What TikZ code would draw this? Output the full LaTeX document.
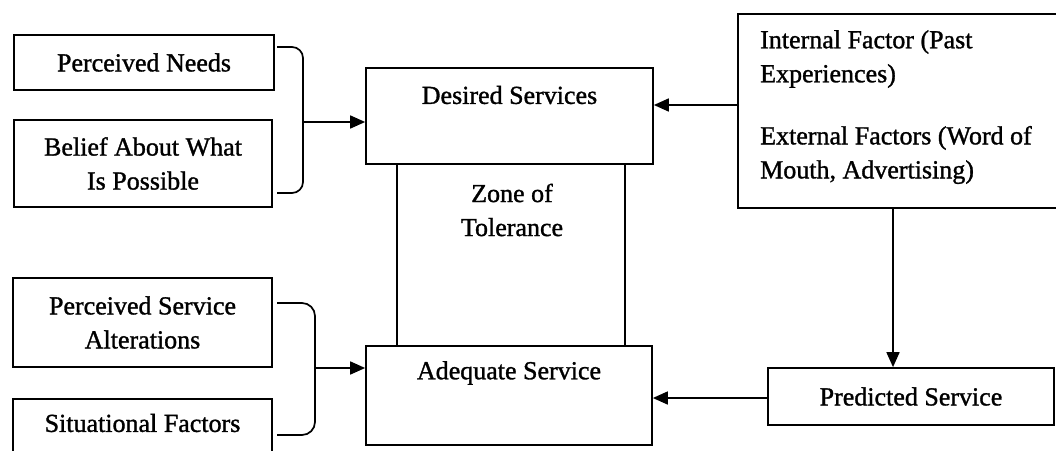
\documentclass[tikz,border=0pt]{standalone}
\usepackage{fontspec}
\setmainfont{Liberation Serif}
\newfontfamily\heavyserif{Liberation Serif}[FakeBold=1.2]
\usetikzlibrary{arrows.meta}
\begin{document}
\begin{tikzpicture}[x=1pt,y=-1pt,
  txt/.style={font=\heavyserif\fontsize{26}{34}\selectfont},
  box/.style={draw,line width=1.7pt,inner sep=0pt,align=center,txt},
  lbl/.style={inner sep=0pt,align=center,txt},
  line/.style={line width=1.7pt},
  arr/.style={line width=1.7pt,-{Triangle[length=15pt,width=13pt]}}]
\useasboundingbox (0,0) rectangle (1056,450);
\clip (0,0) rectangle (1056,450);
% left upper boxes
\node[box,minimum width=260pt,minimum height=55pt] (pn) at (144,62.5) {Perceived Needs};
\node[box,minimum width=258pt,minimum height=87pt] (belief) at (143,163.5) {Belief About What\\Is Possible};
% left lower boxes
\node[box,minimum width=259pt,minimum height=89pt] (psa) at (142.5,322.5) {Perceived Service\\Alterations};
\node[box,minimum width=259pt,minimum height=62pt,anchor=north] (sit) at (142.5,398) {};
\node[lbl] (sitt) at (142.5,423) {Situational Factors};
% centre
\node[box,minimum width=287pt,minimum height=96pt] (desired) at (509.5,116) {};
\node[lbl] (desiredt) at (509.5,95) {Desired Services};
\node[box,minimum width=286pt,minimum height=99pt] (adequate) at (509,395.5) {};
\node[lbl] (adequatet) at (509,373) {Adequate Service};
\node[lbl] (zone) at (512,210) {Zone of\\Tolerance};
\draw[line] (desired.south -| 397,0) -- (adequate.north -| 397,0);
\draw[line] (desired.south -| 625,0) -- (adequate.north -| 625,0);
% right
\node[box,minimum width=340pt,minimum height=194pt,anchor=north west] (ext) at (737,13) {};
\node[lbl,align=left,anchor=west] (intf) at (760,59) {Internal Factor (Past\\Experiences)};
\node[lbl,align=left,anchor=west] (extf) at (760,155) {External Factors (Word of\\Mouth, Advertising)};
\node[box,minimum width=286pt,minimum height=57pt] (pred) at (911,396.5) {Predicted Service};
% brackets
\coordinate (b1s) at (277,47);
\coordinate (j1) at (303,122);
\coordinate (b1e) at (277,193);
\draw[line,rounded corners=11pt] (b1s) -| (j1) |- (b1e);
\draw[arr] (j1) -- (desired.west |- j1);
\coordinate (b2s) at (277,303);
\coordinate (j2) at (315,368);
\coordinate (b2e) at (277,435);
\draw[line,rounded corners=13pt] (b2s) -| (j2) |- (b2e);
\draw[arr] (j2) -- (adequate.west |- j2);
% right connectors
\draw[arr] (ext.west |- 0,105) -- (desired.east |- 0,105);
\draw[arr] (ext.south -| 893,0) -- (pred.north -| 893,0);
\draw[arr] (pred.west |- 0,398) -- (adequate.east |- 0,398);
\end{tikzpicture}
\end{document}
